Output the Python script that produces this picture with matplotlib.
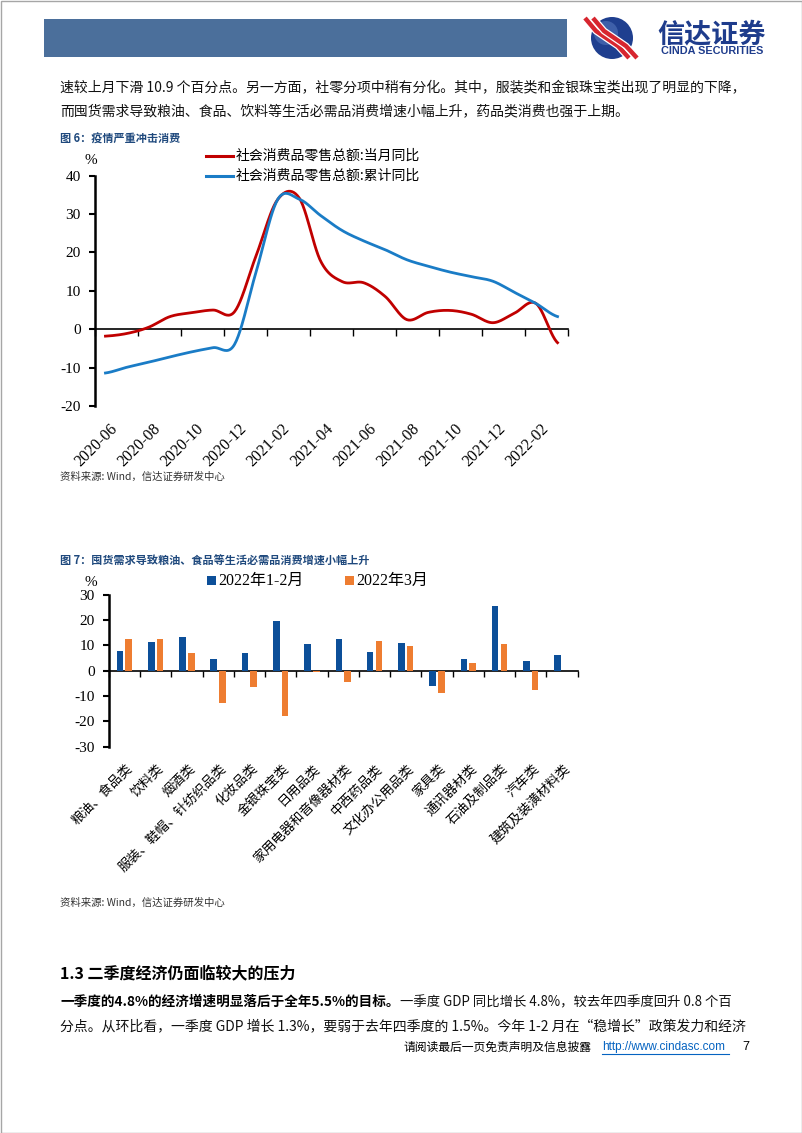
import numpy as np
import matplotlib
matplotlib.use('Agg')
import matplotlib.pyplot as plt
import matplotlib.transforms as mtransforms
import matplotlib.patheffects as pe
from matplotlib.patches import Rectangle, Circle

plt.rcParams['font.family'] = ['Noto Sans CJK SC', 'DejaVu Sans']

W, H = 802, 1133
CJK = ['Noto Sans CJK SC', 'DejaVu Sans']
SERIF = ['Liberation Serif', 'Noto Sans CJK SC']

# ---------- 图6 数据 ----------
months = ['2020-06', '2020-07', '2020-08', '2020-09', '2020-10', '2020-11', '2020-12',
          '2021-01', '2021-02', '2021-03', '2021-04', '2021-05', '2021-06', '2021-07',
          '2021-08', '2021-09', '2021-10', '2021-11', '2021-12', '2022-01', '2022-02',
          '2022-03']
retail_month = [-1.8, -1.1, 0.5, 3.3, 4.3, 5.0, 4.6, 19.2, 33.8, 34.2, 17.7, 12.4,
                12.1, 8.5, 2.5, 4.4, 4.9, 3.9, 1.7, 4.2, 6.7, -3.5]
retail_cum = [-11.4, -9.9, -8.6, -7.2, -5.9, -4.8, -3.9, 15.0, 33.8, 33.9, 29.6, 25.7,
              23.0, 20.7, 18.1, 16.4, 14.9, 13.7, 12.5, 9.6, 6.7, 3.3]
line_names = ['社会消费品零售总额:当月同比', '社会消费品零售总额:累计同比']

# ---------- 图7 数据 ----------
cats = ['粮油、食品类', '饮料类', '烟酒类', '服装、鞋帽、针纺织品类', '化妆品类', '金银珠宝类',
        '日用品类', '家用电器和音像器材类', '中西药品类', '文化办公用品类', '家具类',
        '通讯器材类', '石油及制品类', '汽车类', '建筑及装潢材料类']
jan_feb = [7.8, 11.3, 13.5, 4.8, 6.9, 19.5, 10.6, 12.7, 7.5, 11.0, -6.0, 4.8, 25.6, 3.9, 6.2]
march = [12.5, 12.5, 7.1, -12.7, -6.3, -17.9, -0.7, -4.3, 11.9, 9.7, -8.8, 3.1, 10.5, -7.5, 0.0]
bar_names = ['2022年1-2月', '2022年3月']

RED, BLUE = '#c00000', '#1a7cc6'
BAR_BLUE, BAR_ORANGE = '#0c4f99', '#ee7d31'
TITLE_BLUE = '#1f497d'


def smooth(y, n=24):
    # Excel 风格的平滑线 (Catmull-Rom)
    y = np.asarray(y, float)
    p = np.concatenate([[y[0]], y, [y[-1]]])
    xs, ys = [], []
    t = np.linspace(0, 1, n, endpoint=False)
    for i in range(len(y) - 1):
        p0, p1, p2, p3 = p[i], p[i + 1], p[i + 2], p[i + 3]
        c1 = p1 + (p2 - p0) / 6
        c2 = p2 - (p3 - p1) / 6
        b = (1 - t) ** 3 * p1 + 3 * (1 - t) ** 2 * t * c1 + 3 * (1 - t) * t ** 2 * c2 + t ** 3 * p2
        xs.append(i + t)
        ys.append(b)
    xs.append([len(y) - 1])
    ys.append([y[-1]])
    return np.concatenate(xs), np.concatenate(ys)


def fig_axes(x0, y0, x1, y1):
    return fig.add_axes([x0 / W, 1 - y1 / H, (x1 - x0) / W, (y1 - y0) / H])


fig = plt.figure(figsize=(W / 100, H / 100), dpi=100)
fig.patch.set_facecolor('white')

# 页面层 (像素坐标)
page = fig.add_axes([0, 0, 1, 1])
page.set_xlim(0, W)
page.set_ylim(H, 0)
page.axis('off')

page.add_patch(Rectangle((0.5, 0.5), W - 1, H - 1, fill=False, ec='#a6a6a6', lw=1))

# 页眉
page.add_patch(Rectangle((44, 19), 523, 38, fc='#4b6f9b', ec='none'))
page.add_patch(Circle((612, 38), 21, fc='#1f3f8f', ec='none'))
page.add_patch(Circle((606, 33), 12, fc='#5d7fc4', ec='none', alpha=0.5))
for dx in (-5, 3):
    page.plot([590 + dx, 601 + dx, 623 + dx, 634 + dx], [18, 31, 46, 58], color='#d7262f',
              lw=3.2, solid_capstyle='butt',
              path_effects=[pe.Stroke(linewidth=5, foreground='white'), pe.Normal()])
page.text(712, 34, '信达证券', fontsize=19.5, fontweight='bold', color='#1e3c8c',
          ha='center', va='center', family=CJK)
page.text(712, 51, 'CINDA SECURITIES', fontsize=7.8, fontweight='bold', color='#1e3c8c',
          ha='center', va='center', family=['Liberation Sans'])

# 正文
body = dict(fontsize=10, color='#111111', va='center', family=CJK)
page.text(60, 88, '速较上月下滑 10.9 个百分点。另一方面，社零分项中稍有分化。其中，服装类和金银珠宝类出现了明显的下降，', **body)
page.text(60, 111, '而囤货需求导致粮油、食品、饮料等生活必需品消费增速小幅上升，药品类消费也强于上期。', **body)

# ---------- 图6 ----------
page.text(60, 139, '图 6：疫情严重冲击消费', fontsize=8, fontweight='bold', color=TITLE_BLUE,
          va='center', family=CJK)
page.text(91, 160, '%', fontsize=11, va='center', ha='center', family=SERIF)
for k, (name, c) in enumerate(zip(line_names, [RED, BLUE])):
    yy = 156 + 20 * k
    page.plot([206, 233], [yy, yy], color=c, lw=2.2)
    page.text(236, yy, name, fontsize=10, va='center', family=CJK)

ax1 = fig_axes(94.7, 175.7, 568.3, 406)
ax1.patch.set_alpha(0)
xs, ys = smooth(retail_month)
ax1.plot(xs, ys, color=RED, lw=2, zorder=3)
xs, ys = smooth(retail_cum)
ax1.plot(xs, ys, color=BLUE, lw=2, zorder=3)
ax1.set_xlim(-0.5, len(months) - 0.5)
ax1.set_ylim(-20, 40)
ax1.set_yticks(np.arange(-20, 41, 10))
ax1.set_yticklabels([str(v) for v in range(-20, 41, 10)], family=SERIF, fontsize=11)
ax1.set_xticks(np.arange(-0.5, len(months), 2))
ax1.tick_params(axis='x', direction='out', length=5, width=1, labelbottom=False)
ax1.tick_params(axis='y', direction='out', length=4, width=1.5, pad=6)
for s in ('top', 'right'):
    ax1.spines[s].set_visible(False)
ax1.spines['left'].set_linewidth(1.8)
ax1.spines['bottom'].set_position(('data', 0))
ax1.spines['bottom'].set_linewidth(1.2)
trans1 = mtransforms.blended_transform_factory(ax1.transData, ax1.transAxes)
for k in range(0, len(months), 2):
    ax1.text(k + 0.2, -0.065, months[k], transform=trans1, rotation=45, ha='right', va='top',
             rotation_mode='anchor', fontsize=11.5, family=SERIF)

page.text(60, 477, '资料来源: Wind，信达证券研发中心', fontsize=7.5, color='#333333',
          va='center', family=CJK, style='italic')

# ---------- 图7 ----------
page.text(60, 561, '图 7：囤货需求导致粮油、食品等生活必需品消费增速小幅上升', fontsize=8,
          fontweight='bold', color=TITLE_BLUE, va='center', family=CJK)
page.text(91, 583, '%', fontsize=11, va='center', ha='center', family=SERIF)
for (x0, name, c) in [(207, bar_names[0], BAR_BLUE), (345, bar_names[1], BAR_ORANGE)]:
    page.add_patch(Rectangle((x0, 576), 9, 9, fc=c, ec='none'))
    page.text(x0 + 11, 580.5, name, fontsize=11.5, va='center', family=SERIF)

ax2 = fig_axes(108.7, 594.7, 577.7, 746.7)
ax2.patch.set_alpha(0)
xc = np.arange(len(cats))
ax2.bar(xc - 0.14, jan_feb, 0.21, color=BAR_BLUE, zorder=3)
ax2.bar(xc + 0.14, march, 0.21, color=BAR_ORANGE, zorder=3)
ax2.set_xlim(-0.5, len(cats) - 0.5)
ax2.set_ylim(-30, 30)
ax2.set_yticks(np.arange(-30, 31, 10))
ax2.set_yticklabels([str(v) for v in range(-30, 31, 10)], family=SERIF, fontsize=11)
ax2.set_xticks(np.arange(-0.5, len(cats), 1))
ax2.tick_params(axis='x', direction='out', length=4, width=1, labelbottom=False)
ax2.tick_params(axis='y', direction='out', length=4, width=1.5, pad=6)
for s in ('top', 'right'):
    ax2.spines[s].set_visible(False)
ax2.spines['left'].set_linewidth(1.8)
ax2.spines['bottom'].set_position(('data', 0))
ax2.spines['bottom'].set_linewidth(1.2)
trans2 = mtransforms.blended_transform_factory(ax2.transData, ax2.transAxes)
for k, c in enumerate(cats):
    ax2.text(k + 0.05, -0.1, c, transform=trans2, rotation=45, ha='right', va='top',
             rotation_mode='anchor', fontsize=9.5, family=CJK)

page.text(60, 903, '资料来源: Wind，信达证券研发中心', fontsize=7.5, color='#333333',
          va='center', family=CJK, style='italic')

# ---------- 1.3 小节 ----------
page.text(60, 973, '1.3 二季度经济仍面临较大的压力', fontsize=11.5, fontweight='bold',
          va='center', family=CJK)
fig.canvas.draw()
r = fig.canvas.get_renderer()
t_b = page.text(60, 1002, '一季度的4.8%的经济增速明显落后于全年5.5%的目标。', fontsize=9.8,
                fontweight='bold', va='center', family=CJK)
bb = t_b.get_window_extent(r)
page.text(bb.x1 + 1, 1002, '一季度 GDP 同比增长 4.8%，较去年四季度回升 0.8 个百',
          fontsize=9.6, color='#111111', va='center', family=CJK)
page.text(60, 1026, '分点。从环比看，一季度 GDP 增长 1.3%，要弱于去年四季度的 1.5%。今年 1-2 月在“稳增长”政策发力和经济', **body)

# 页脚
page.text(403, 1047, '请阅读最后一页免责声明及信息披露', fontsize=8.5, va='center', family=CJK)
page.text(602, 1047, 'http://www.cindasc.com', fontsize=8.5, va='center', color='#0563c1',
          family=['Liberation Sans'])
page.plot([602, 729], [1054, 1054], color='#0563c1', lw=0.8)
page.text(742, 1047, '7', fontsize=9, va='center', family=['Liberation Sans'])

fig.savefig('out.png', dpi=100, facecolor='white')
